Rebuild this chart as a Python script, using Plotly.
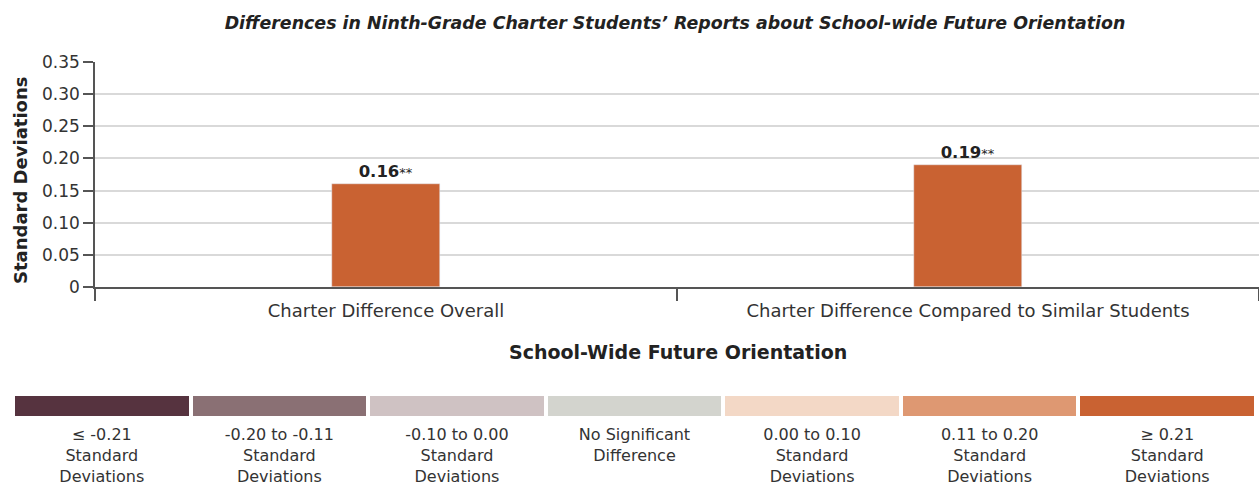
import plotly.graph_objects as go

# ---- data ----
categories = ["Charter Difference Overall", "Charter Difference Compared to Similar Students"]
values = [0.16, 0.19]
sig_marks = ["**", "**"]
bar_color = "#c96232"

ytick_vals = [0, 0.05, 0.10, 0.15, 0.20, 0.25, 0.30, 0.35]
ytick_text = ["0", "0.05", "0.10", "0.15", "0.20", "0.25", "0.30", "0.35"]

legend_labels = [
    "≤ -0.21<br>Standard<br>Deviations",
    "-0.20 to -0.11<br>Standard<br>Deviations",
    "-0.10 to 0.00<br>Standard<br>Deviations",
    "No Significant<br>Difference<br> ",
    "0.00 to 0.10<br>Standard<br>Deviations",
    "0.11 to 0.20<br>Standard<br>Deviations",
    "≥ 0.21<br>Standard<br>Deviations",
]
legend_colors = ["#56333f", "#8a7074", "#cfc2c3", "#d3d4ce", "#f3d8c6", "#de9872", "#c96232"]
legend_values = [1, 1, 1, 1, 1, 1, 1]

FONT = "DejaVu Sans"
W, H = 1259, 485

def py(px):
    return 1 - px / H

def px_x(px):
    return px / W

fig = go.Figure()

bar_text = [f"<b>{v:.2f}</b><span style='font-size:13px'>{s}</span>" for v, s in zip(values, sig_marks)]
fig.add_trace(go.Bar(
    x=categories, y=values, marker_color=bar_color, width=0.186,
    text=bar_text, texttemplate="%{text}", textposition="outside",
    textfont=dict(size=16.5, color="#222222", family=FONT),
    cliponaxis=False, xaxis="x", yaxis="y", showlegend=False, hoverinfo="skip",
))

legend_x = [f"c{i}" for i in range(len(legend_labels))]
fig.add_trace(go.Bar(
    x=legend_x, y=legend_values, marker_color=legend_colors, marker_line_width=0,
    width=0.977, xaxis="x2", yaxis="y2", showlegend=False, hoverinfo="skip",
))

fig.update_layout(
    width=W, height=H,
    margin=dict(l=0, r=0, t=0, b=0, autoexpand=False),
    paper_bgcolor="white", plot_bgcolor="white",
    font=dict(family=FONT, color="#333333"),
    title=dict(
        text="Differences in Ninth-Grade Charter Students’ Reports about School-wide Future Orientation",
        x=px_x(675), xanchor="center", y=py(23), yanchor="middle",
        font=dict(size=17.4, family=FONT, color="#222222", style="italic", weight=600),
    ),
    xaxis=dict(
        domain=[px_x(95), 1], type="category", automargin=False,
        showline=True, linecolor="#555555", linewidth=1.5,
        ticks="outside", tickson="boundaries", ticklen=12, tickcolor="#555555", tickwidth=1.5,
        tickfont=dict(size=18, color="#333333", family=FONT), ticklabelstandoff=7,
        showgrid=False, zeroline=False,
    ),
    yaxis=dict(
        domain=[py(287), py(62)], range=[0, 0.35], automargin=False,
        tickvals=ytick_vals, ticktext=ytick_text,
        showline=True, linecolor="#555555", linewidth=1.5,
        ticks="outside", ticklen=10, tickcolor="#555555", tickwidth=1.5,
        tickfont=dict(size=17, color="#333333", family=FONT),
        showgrid=True, gridcolor="#d9d9d9", gridwidth=1.5, zeroline=False,
    ),
    xaxis2=dict(
        domain=[px_x(13), px_x(1256)], type="category", anchor="y2", automargin=False,
        showline=False, ticks="", showgrid=False, zeroline=False,
        tickvals=legend_x, ticktext=legend_labels, ticklabelstandoff=7,
        tickfont=dict(size=16, color="#333333", family=FONT),
    ),
    yaxis2=dict(
        domain=[py(416), py(396)], range=[0, 1], anchor="x2",
        visible=False,
    ),
    bargap=0,
)

fig.add_annotation(
    text="<b>Standard Deviations</b>", xref="paper", yref="paper", textangle=-90,
    x=px_x(20), y=py(181), xanchor="center", yanchor="middle", showarrow=False,
    font=dict(size=18, color="#222222", family=FONT),
)

fig.add_annotation(
    text="<b>School-Wide Future Orientation</b>", xref="paper", yref="paper",
    x=px_x(678), y=py(352), xanchor="center", yanchor="middle", showarrow=False,
    font=dict(size=19, color="#222222", family=FONT),
)

fig.write_html("out.html", config={"displayModeBar": False},
               post_script="document.body.style.margin='0';document.body.style.overflow='hidden';")
